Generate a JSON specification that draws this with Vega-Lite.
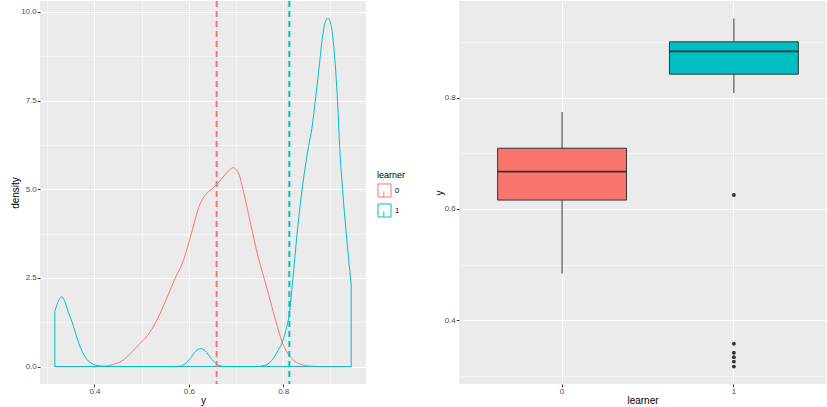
{
  "$schema": "https://vega.github.io/schema/vega-lite/v6.json",
  "background": "white",
  "padding": {"left": 10, "top": 0, "right": 0, "bottom": 0},
  "autosize": {"type": "pad"},
  "bounds": "flush",
  "spacing": 93,
  "datasets": {
    "dens": [
      {"learner": "0", "y": 0.316, "density": 0},
      {"learner": "0", "y": 0.36, "density": 0},
      {"learner": "0", "y": 0.40, "density": 0},
      {"learner": "0", "y": 0.42, "density": 0.01},
      {"learner": "0", "y": 0.44, "density": 0.06},
      {"learner": "0", "y": 0.459, "density": 0.17},
      {"learner": "0", "y": 0.477, "density": 0.38},
      {"learner": "0", "y": 0.494, "density": 0.62},
      {"learner": "0", "y": 0.512, "density": 0.87},
      {"learner": "0", "y": 0.530, "density": 1.25},
      {"learner": "0", "y": 0.551, "density": 1.86},
      {"learner": "0", "y": 0.572, "density": 2.52},
      {"learner": "0", "y": 0.590, "density": 3.05},
      {"learner": "0", "y": 0.600, "density": 3.5},
      {"learner": "0", "y": 0.607, "density": 3.83},
      {"learner": "0", "y": 0.621, "density": 4.49},
      {"learner": "0", "y": 0.636, "density": 4.86},
      {"learner": "0", "y": 0.648, "density": 5.0},
      {"learner": "0", "y": 0.660, "density": 5.15},
      {"learner": "0", "y": 0.678, "density": 5.43},
      {"learner": "0", "y": 0.687, "density": 5.56},
      {"learner": "0", "y": 0.694, "density": 5.61},
      {"learner": "0", "y": 0.700, "density": 5.56},
      {"learner": "0", "y": 0.706, "density": 5.43},
      {"learner": "0", "y": 0.717, "density": 4.86},
      {"learner": "0", "y": 0.728, "density": 4.21},
      {"learner": "0", "y": 0.742, "density": 3.36},
      {"learner": "0", "y": 0.749, "density": 2.99},
      {"learner": "0", "y": 0.763, "density": 2.33},
      {"learner": "0", "y": 0.784, "density": 1.30},
      {"learner": "0", "y": 0.798, "density": 0.68},
      {"learner": "0", "y": 0.813, "density": 0.31},
      {"learner": "0", "y": 0.834, "density": 0.08},
      {"learner": "0", "y": 0.86, "density": 0.01},
      {"learner": "0", "y": 0.88, "density": 0},
      {"learner": "0", "y": 0.944, "density": 0},
      {"learner": "1", "y": 0.316, "density": 1.55},
      {"learner": "1", "y": 0.322, "density": 1.80},
      {"learner": "1", "y": 0.331, "density": 1.97},
      {"learner": "1", "y": 0.338, "density": 1.81},
      {"learner": "1", "y": 0.345, "density": 1.52},
      {"learner": "1", "y": 0.352, "density": 1.28},
      {"learner": "1", "y": 0.367, "density": 0.65},
      {"learner": "1", "y": 0.381, "density": 0.26},
      {"learner": "1", "y": 0.395, "density": 0.08},
      {"learner": "1", "y": 0.41, "density": 0.02},
      {"learner": "1", "y": 0.43, "density": 0},
      {"learner": "1", "y": 0.50, "density": 0},
      {"learner": "1", "y": 0.565, "density": 0},
      {"learner": "1", "y": 0.579, "density": 0.01},
      {"learner": "1", "y": 0.59, "density": 0.06},
      {"learner": "1", "y": 0.604, "density": 0.25},
      {"learner": "1", "y": 0.615, "density": 0.44},
      {"learner": "1", "y": 0.625, "density": 0.51},
      {"learner": "1", "y": 0.635, "density": 0.44},
      {"learner": "1", "y": 0.646, "density": 0.25},
      {"learner": "1", "y": 0.657, "density": 0.09},
      {"learner": "1", "y": 0.667, "density": 0.02},
      {"learner": "1", "y": 0.68, "density": 0},
      {"learner": "1", "y": 0.74, "density": 0},
      {"learner": "1", "y": 0.76, "density": 0.03},
      {"learner": "1", "y": 0.77, "density": 0.1},
      {"learner": "1", "y": 0.78, "density": 0.25},
      {"learner": "1", "y": 0.79, "density": 0.48},
      {"learner": "1", "y": 0.798, "density": 0.68},
      {"learner": "1", "y": 0.805, "density": 1.0},
      {"learner": "1", "y": 0.813, "density": 1.5},
      {"learner": "1", "y": 0.820, "density": 2.42},
      {"learner": "1", "y": 0.830, "density": 3.83},
      {"learner": "1", "y": 0.841, "density": 5.1},
      {"learner": "1", "y": 0.851, "density": 6.0},
      {"learner": "1", "y": 0.862, "density": 6.84},
      {"learner": "1", "y": 0.869, "density": 7.62},
      {"learner": "1", "y": 0.876, "density": 8.43},
      {"learner": "1", "y": 0.883, "density": 9.28},
      {"learner": "1", "y": 0.890, "density": 9.75},
      {"learner": "1", "y": 0.895, "density": 9.82},
      {"learner": "1", "y": 0.901, "density": 9.65},
      {"learner": "1", "y": 0.908, "density": 8.9},
      {"learner": "1", "y": 0.915, "density": 7.5},
      {"learner": "1", "y": 0.920, "density": 6.1},
      {"learner": "1", "y": 0.926, "density": 4.96},
      {"learner": "1", "y": 0.933, "density": 3.83},
      {"learner": "1", "y": 0.944, "density": 2.33}
    ],
    "means": [
      {"learner": "0", "mean": 0.659},
      {"learner": "1", "mean": 0.813}
    ],
    "box": [
      {"learner": "0", "lower": 0.484, "q1": 0.616, "median": 0.667, "q3": 0.709, "upper": 0.774},
      {"learner": "1", "lower": 0.808, "q1": 0.842, "median": 0.883, "q3": 0.900, "upper": 0.942}
    ],
    "outliers": [
      {"learner": "1", "y": 0.625},
      {"learner": "1", "y": 0.358},
      {"learner": "1", "y": 0.342},
      {"learner": "1", "y": 0.334},
      {"learner": "1", "y": 0.326},
      {"learner": "1", "y": 0.317}
    ]
  },
  "hconcat": [
    {
      "width": 326,
      "height": 383,
      "layer": [
        {
          "data": {"name": "dens"},
          "mark": {"type": "area", "fill": "transparent", "strokeWidth": 1, "interpolate": "monotone", "clip": true},
          "encoding": {
            "x": {
              "field": "y", "type": "quantitative", "title": "y",
              "scale": {"domain": [0.2846, 0.9754], "nice": false, "zero": false},
              "axis": {
                "values": [0.3, 0.4, 0.5, 0.6, 0.7, 0.8, 0.9],
                "labelExpr": "round(datum.value*10)%2==0 ? format(datum.value,'.1f') : ''",
                "gridWidth": {"condition": {"test": "round(datum.value*10)%2==0", "value": 1.1}, "value": 0.5},
                "tickOpacity": {"condition": {"test": "round(datum.value*10)%2==0", "value": 1}, "value": 0}
              }
            },
            "y": {
              "field": "density", "type": "quantitative", "title": "density",
              "scale": {"domain": [-0.49, 10.31], "nice": false, "zero": false},
              "axis": {
                "titlePadding": 0,
                "values": [0, 1.25, 2.5, 3.75, 5, 6.25, 7.5, 8.75, 10],
                "labelExpr": "round(datum.value/1.25)%2==0 ? format(datum.value,'.1f') : ''",
                "gridWidth": {"condition": {"test": "round(datum.value/1.25)%2==0", "value": 1.1}, "value": 0.5},
                "tickOpacity": {"condition": {"test": "round(datum.value/1.25)%2==0", "value": 1}, "value": 0}
              }
            },
            "y2": {"datum": 0},
            "stroke": {
              "field": "learner", "type": "nominal",
              "scale": {"domain": ["0", "1"], "range": ["#F8766D", "#00BFC4"]},
              "legend": {
                "orient": "none", "legendX": 337, "legendY": 170, "title": "learner",
                "symbolType": "M-1,-1H1V1H-1Z M-0.1,1V0.15", "symbolSize": 170, "symbolStrokeWidth": 1,
                "symbolFillColor": "#F2F2F2", "labelFontSize": 7.5, "titleFontSize": 9,
                "titleFontWeight": "normal", "titleColor": "#000000", "labelColor": "#000000",
                "rowPadding": 1, "labelOffset": 3, "titlePadding": 3
              }
            }
          }
        },
        {
          "data": {"name": "means"},
          "mark": {"type": "rule", "strokeDash": [6, 4], "strokeWidth": 2},
          "encoding": {
            "x": {"field": "mean", "type": "quantitative"},
            "stroke": {"field": "learner", "type": "nominal", "legend": null}
          }
        }
      ]
    },
    {
      "width": 367,
      "height": 383,
      "layer": [
        {
          "data": {"name": "box"},
          "mark": {"type": "rule", "color": "#333333", "strokeWidth": 1},
          "encoding": {
            "x": {
              "field": "learner", "type": "nominal", "title": "learner",
              "scale": {"type": "band", "domain": ["0", "1"], "paddingInner": 0.25, "paddingOuter": 0.193, "align": 0.5825},
              "axis": {"labelAngle": 0, "bandPosition": 0.5, "grid": true, "gridWidth": 1.1}
            },
            "y": {
              "field": "lower", "type": "quantitative", "title": "y",
              "scale": {"domain": [0.2858, 0.9733], "nice": false, "zero": false},
              "axis": {
                "titlePadding": 0,
                "values": [0.3, 0.4, 0.5, 0.6, 0.7, 0.8, 0.9],
                "labelExpr": "round(datum.value*10)%2==0 ? format(datum.value,'.1f') : ''",
                "gridWidth": {"condition": {"test": "round(datum.value*10)%2==0", "value": 1.1}, "value": 0.5},
                "tickOpacity": {"condition": {"test": "round(datum.value*10)%2==0", "value": 1}, "value": 0}
              }
            },
            "y2": {"field": "upper"}
          }
        },
        {
          "data": {"name": "box"},
          "mark": {"type": "bar", "stroke": "#333333", "strokeWidth": 1},
          "encoding": {
            "x": {"field": "learner", "type": "nominal"},
            "y": {"field": "q1", "type": "quantitative"},
            "y2": {"field": "q3"},
            "fill": {
              "field": "learner", "type": "nominal",
              "scale": {"domain": ["0", "1"], "range": ["#F8766D", "#00BFC4"]},
              "legend": null
            }
          }
        },
        {
          "data": {"name": "box"},
          "mark": {"type": "tick", "color": "#333333", "size": 129, "thickness": 1.8, "opacity": 1},
          "encoding": {
            "x": {"field": "learner", "type": "nominal"},
            "y": {"field": "median", "type": "quantitative"}
          }
        },
        {
          "data": {"name": "outliers"},
          "mark": {"type": "point", "filled": true, "color": "#333333", "size": 15, "opacity": 1},
          "encoding": {
            "x": {"field": "learner", "type": "nominal"},
            "y": {"field": "y", "type": "quantitative"}
          }
        }
      ]
    }
  ],
  "resolve": {
    "scale": {"x": "independent", "y": "independent", "stroke": "independent", "fill": "independent"},
    "legend": {"stroke": "independent"}
  },
  "config": {
    "font": "Liberation Sans",
    "view": {"fill": "#EBEBEB", "stroke": null},
    "axis": {
      "domain": false, "grid": true, "gridColor": "#FFFFFF", "gridWidth": 1.1,
      "tickColor": "#333333", "tickSize": 2.75, "tickWidth": 1,
      "labelColor": "#4D4D4D", "labelFontSize": 8, "labelPadding": 1,
      "titleFontSize": 10, "titleFontWeight": "normal", "titleColor": "#000000", "titlePadding": 3
    },
    "axisX": {"titlePadding": 0}
  }
}
